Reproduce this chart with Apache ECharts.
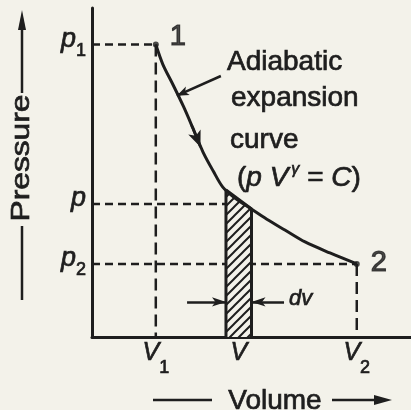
<!DOCTYPE html>
<html>
<head>
<meta charset="utf-8">
<script src="https://cdn.jsdelivr.net/npm/echarts@6/dist/echarts.min.js"></script>
<style>
  html, body { margin: 0; padding: 0; background: #f3f2ea; }
  #chart { width: 411px; height: 410px; }
</style>
</head>
<body>
<div id="chart"></div>
<script>
// p–V diagram of an adiabatic expansion from state 1 to state 2

// expansion curve (volume, pressure)
const curveV = [1.00, 1.11, 1.27, 1.43, 1.58, 1.74, 1.90, 2.05, 2.24, 2.48, 2.74, 3.03, 3.34, 3.73, 4.15];
const curveP = [4.00, 3.73, 3.45, 3.16, 2.86, 2.53, 2.27, 2.05, 1.90, 1.76, 1.61, 1.46, 1.30, 1.15, 1.00];

// end states
const stateV = [1.00, 4.15];
const stateP = [4.00, 1.00];
const stateNames = ['1', '2'];

// intermediate pressure and the elementary strip dv
const pMid = 1.82;
const stripV = [2.10, 2.50];
const stripP = [2.01, 1.75];

// tick labels
const xTickValues = [1.00, 2.30, 4.15];
const xTickMain = ['V', 'V', 'V'];
const xTickSub = ['1', '', '2'];
const yTickValues = [1.00, 1.82, 4.00];
const yTickMain = ['p', 'p', 'p'];
const yTickSub = ['2', '', '1'];

// arrows (data units)
const dvArrowP = 0.48;
const dvArrowFrom = [1.49, 3.01];
const leaderFrom = [2.02, 3.57];
const leaderTo = [1.33, 3.30];
const flowFrom = [1.56, 2.90];
const flowTo = [1.70, 2.60];

const INK = '#1e1e1e';
const BG = '#f3f2ea';
const FONT = '"Liberation Sans", Arial, sans-serif';
const HEAVY = 0.7; // outline that gives the printed text its weight

function hatch() {
  const n = 9;
  const c = document.createElement('canvas');
  c.width = n; c.height = n;
  const g = c.getContext('2d');
  g.fillStyle = BG; g.fillRect(0, 0, n, n);
  g.strokeStyle = INK; g.lineWidth = 2;
  g.beginPath();
  g.moveTo(-1, n + 1); g.lineTo(n + 1, -1);
  g.moveTo(-1, 1); g.lineTo(1, -1);
  g.moveTo(n - 1, n + 1); g.lineTo(n + 1, n - 1);
  g.stroke();
  return c;
}

function guide(points, dash) {
  return {
    type: 'line', data: points, symbol: 'none', z: 2,
    lineStyle: { color: INK, width: 2.5, type: dash }
  };
}

function textEl(x, y, text, font, extra) {
  return Object.assign({
    type: 'text', x: x, y: y,
    style: { text: text, font: font, fill: INK, stroke: INK, lineWidth: HEAVY, align: 'left', verticalAlign: 'middle' }
  }, extra || {});
}

const curveData = curveV.map((v, i) => [v, curveP[i]]);

const chart = echarts.init(document.getElementById('chart'), null, { renderer: 'canvas' });
chart.setOption({
  backgroundColor: BG,
  animation: false,
  grid: { left: 92, right: 0, top: 8, bottom: 73, outerBoundsMode: 'none' },
  xAxis: {
    type: 'value', min: 0, max: 5,
    axisLine: { show: true, onZero: false, lineStyle: { color: INK, width: 3 } },
    axisTick: { show: false },
    splitLine: { show: false },
    axisLabel: {
      customValues: xTickValues,
      margin: 2,
      formatter: v => {
        const i = xTickValues.indexOf(v);
        if (i < 0) return '';
        return '{m|' + xTickMain[i] + '}' + (xTickSub[i] ? '{s|' + xTickSub[i] + '}' : '');
      },
      rich: {
        m: { fontFamily: FONT, fontSize: 25, fontStyle: 'italic', color: INK, lineHeight: 28,
             textBorderColor: INK, textBorderWidth: HEAVY },
        s: { fontFamily: FONT, fontSize: 18, color: INK, lineHeight: 12, verticalAlign: 'bottom', padding: [0, 0, -10, 0],
             textBorderColor: INK, textBorderWidth: HEAVY }
      }
    }
  },
  yAxis: {
    type: 'value', min: 0, max: 4.5,
    axisLine: { show: true, onZero: false, lineStyle: { color: INK, width: 3 } },
    axisTick: { show: false },
    splitLine: { show: false },
    axisLabel: {
      customValues: yTickValues,
      margin: 6,
      formatter: v => {
        const i = yTickValues.indexOf(v);
        if (i < 0) return '';
        return '{m|' + yTickMain[i] + '}' + (yTickSub[i] ? '{s|' + yTickSub[i] + '}' : '');
      },
      rich: {
        m: { fontFamily: FONT, fontSize: 27, fontStyle: 'italic', color: INK, lineHeight: 30, padding: [0, 0, 10, 0],
             textBorderColor: INK, textBorderWidth: HEAVY },
        s: { fontFamily: FONT, fontSize: 18, color: INK, lineHeight: 14, verticalAlign: 'bottom',
             textBorderColor: INK, textBorderWidth: HEAVY }
      }
    }
  },
  series: [
    guide([[0, stateP[0]], [stateV[0], stateP[0]]], [8, 5]),
    guide([[stateV[0], stateP[0]], [stateV[0], 0]], [12, 6]),
    guide([[0, pMid], [stripV[0], pMid]], [8, 5]),
    guide([[0, stateP[1]], [stateV[1], stateP[1]]], [8, 5]),
    guide([[stateV[1], stateP[1]], [stateV[1], 0]], [12, 6]),
    {
      // elementary strip under the curve
      type: 'line', symbol: 'none', z: 3,
      data: [[stripV[0], 0], [stripV[0], stripP[0]], [stripV[1], stripP[1]], [stripV[1], 0]],
      lineStyle: { color: INK, width: 3 },
      areaStyle: { color: { image: hatch(), repeat: 'repeat' }, opacity: 1 }
    },
    {
      // adiabatic expansion curve
      type: 'line', symbol: 'none', smooth: 0.3, z: 4,
      data: curveData,
      lineStyle: { color: INK, width: 3 },
      markLine: {
        silent: true, animation: false,
        symbol: ['none', 'arrow'],
        label: { show: false },
        lineStyle: { color: INK, width: 2.5, type: 'solid' },
        data: [
          [{ coord: [dvArrowFrom[0], dvArrowP] }, { coord: [stripV[0], dvArrowP], symbolSize: [7, 14] }],
          [{ coord: [dvArrowFrom[1], dvArrowP] }, { coord: [stripV[1], dvArrowP], symbolSize: [7, 14] }],
          [{ coord: leaderFrom }, { coord: leaderTo, symbolSize: [7, 12] }],
          [{ coord: flowFrom }, { coord: flowTo, symbolSize: [10, 16] }]
        ]
      }
    },
    {
      // end states 1 and 2
      type: 'scatter', z: 5,
      data: stateV.map((v, i) => ({
        value: [v, stateP[i]],
        label: { offset: i === 0 ? [0, -8] : [0, -1] }
      })),
      symbolSize: 6,
      itemStyle: { color: INK },
      label: {
        show: true, position: 'right', distance: 11,
        formatter: p => stateNames[p.dataIndex],
        fontFamily: FONT, fontSize: 29, color: INK,
        textBorderColor: INK, textBorderWidth: 1.2
      }
    }
  ],
  graphic: [
    // axis titles
    { type: 'text', x: 22, y: 158, rotation: Math.PI / 2, scaleX: 1.22,
      style: { text: 'Pressure', font: '26px ' + FONT, fill: INK, stroke: INK, lineWidth: HEAVY,
               align: 'center', verticalAlign: 'middle' } },
    { type: 'line', shape: { x1: 22, y1: 93, x2: 22, y2: 26 }, style: { stroke: INK, lineWidth: 2.5 } },
    { type: 'polygon', shape: { points: [[22, 10], [18, 30], [26, 30]] }, style: { fill: INK } },
    { type: 'line', shape: { x1: 22, y1: 226, x2: 22, y2: 300 }, style: { stroke: INK, lineWidth: 2.5 } },
    { type: 'text', x: 275, y: 401,
      style: { text: 'Volume', font: '28px ' + FONT, fill: INK, stroke: INK, lineWidth: HEAVY,
               align: 'center', verticalAlign: 'middle' } },
    { type: 'line', shape: { x1: 153, y1: 400, x2: 212, y2: 400 }, style: { stroke: INK, lineWidth: 2.5 } },
    { type: 'line', shape: { x1: 332, y1: 400, x2: 378, y2: 400 }, style: { stroke: INK, lineWidth: 2.5 } },
    { type: 'polygon', shape: { points: [[392, 400], [374, 395], [374, 405]] }, style: { fill: INK } },
    // curve description
    textEl(227, 62, 'Adiabatic', '28px ' + FONT),
    textEl(231, 98, 'expansion', '28px ' + FONT),
    textEl(230, 140, 'curve', '28px ' + FONT),
    { type: 'text', x: 237, y: 178,
      style: {
        text: '{n|(}{i|p V}{u|γ}{n| = }{i|C}{n|)}',
        align: 'left', verticalAlign: 'middle',
        rich: {
          n: { font: '28px ' + FONT, fill: INK, stroke: INK, lineWidth: HEAVY, lineHeight: 32 },
          i: { font: 'italic 28px ' + FONT, fill: INK, stroke: INK, lineWidth: HEAVY, lineHeight: 32 },
          u: { font: 'italic 16px ' + FONT, fill: INK, stroke: INK, lineWidth: HEAVY, lineHeight: 32, padding: [0, 0, 16, 3] }
        }
      } },
    textEl(289, 299, 'dv', 'italic 22px ' + FONT)
  ]
});
</script>
</body>
</html>
